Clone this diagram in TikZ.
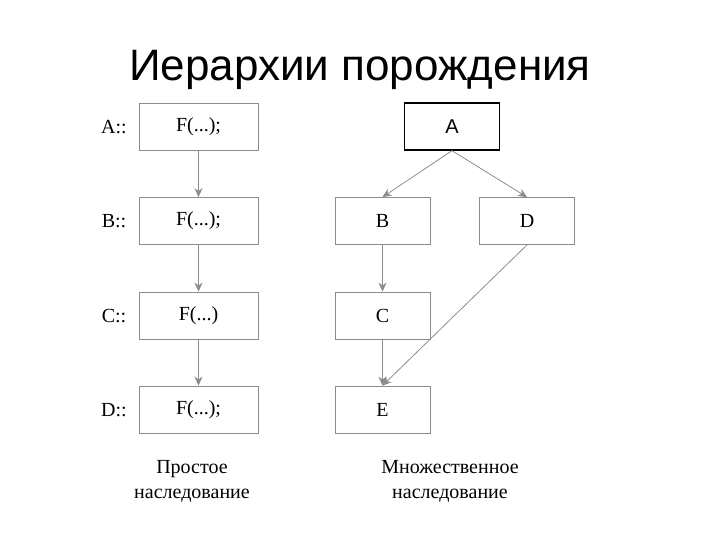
\documentclass[tikz,border=0pt]{standalone}
\usepackage{fontspec}
\setmainfont{Liberation Serif}
\newfontfamily\titlefont{Liberation Sans}
\usetikzlibrary{arrows.meta}
\begin{document}
\begin{tikzpicture}[x=1pt,y=-1pt,
  box/.style={draw=black!45,line width=0.8pt,minimum width=119pt,minimum height=47pt,inner sep=0pt,font=\fontsize{20}{22}\selectfont},
  rbox/.style={box,minimum width=95pt},
  lab/.style={font=\fontsize{20}{22}\selectfont},
  arr/.style={draw=black!45,line width=0.8pt,-{Stealth[length=9pt,width=8pt]}},
  captext/.style={align=center,font=\fontsize{20}{25}\selectfont}]
\useasboundingbox (0,0) rectangle (720,540);
\node[font=\titlefont\fontsize{44}{48}\selectfont] (t) at (360,70) {Иерархии порождения};
\node[box] (l1) at (198.5,126.5) {F(...);};
\node[box] (l2) at (198.5,221) {F(...);};
\node[box] (l3) at (198.5,315.5) {F(...)};
\node[box] (l4) at (198.5,409.5) {F(...);};
\node[lab] (a) at (114,127) {A::};
\node[lab] (b) at (114,221) {B::};
\node[lab] (c) at (114,316) {C::};
\node[lab] (d) at (114,410) {D::};
\draw[arr] (l1) -- (l2);
\draw[arr] (l2) -- (l3);
\draw[arr] (l3) -- (l4);
\node[rbox,draw=black,line width=1.4pt,font=\titlefont\fontsize{20}{22}\selectfont] (A) at (452,126.5) {A};
\node[rbox] (B) at (382.5,221) {B};
\node[rbox] (D) at (527,221) {D};
\node[rbox] (C) at (382.5,315.5) {C};
\node[rbox] (E) at (382.5,409.5) {E};
\draw[arr] (A.south) -- (B.north);
\draw[arr] (A.south) -- (D.north);
\draw[arr] (B) -- (C);
\draw[arr] (C) -- (E);
\draw[arr] (D.south) -- (E.north);
\node[captext] (p1) at (192,481) {Простое\\наследование};
\node[captext] (p2) at (450,481) {Множественное\\наследование};
\end{tikzpicture}
\end{document}
